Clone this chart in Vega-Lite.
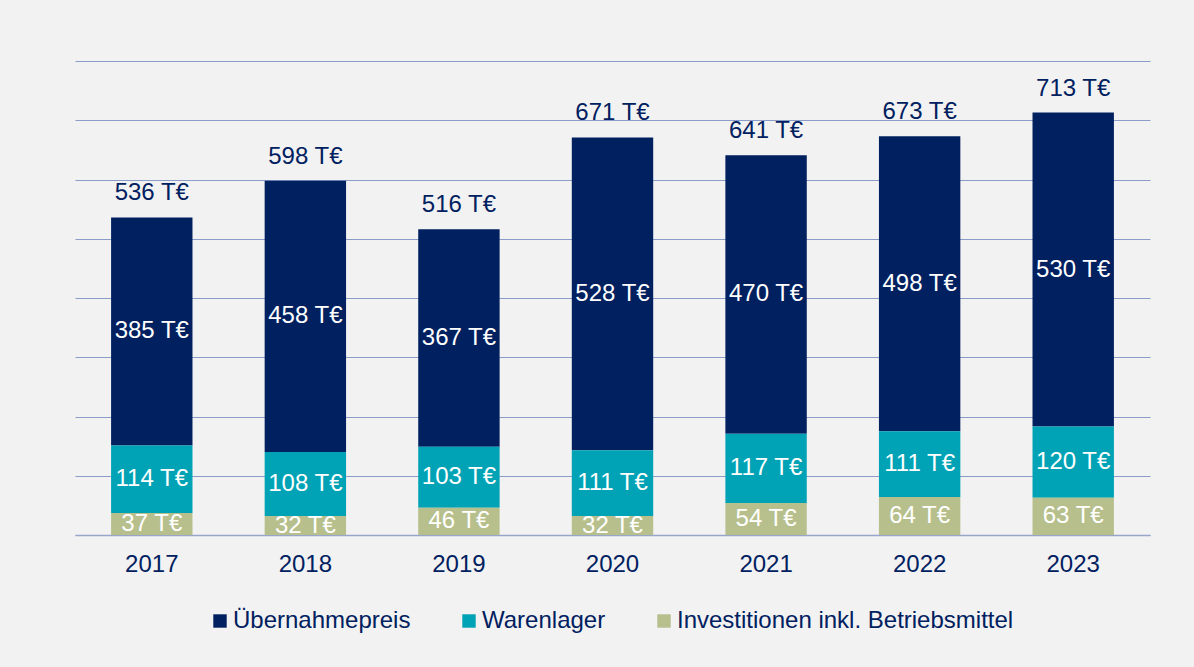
{
  "$schema": "https://vega.github.io/schema/vega-lite/v6.json",
  "width": 1075,
  "height": 474,
  "autosize": {"type": "none"},
  "padding": {"left": 75, "top": 61, "right": 44, "bottom": 132},
  "background": "#f2f2f2",
  "config": {"view": {"stroke": null}, "font": "Liberation Sans"},
  "data": {
    "values": [
      {"Jahr": "2017", "Kategorie": "Übernahmepreis", "Wert": 385},
      {"Jahr": "2017", "Kategorie": "Warenlager", "Wert": 114},
      {"Jahr": "2017", "Kategorie": "Investitionen inkl. Betriebsmittel", "Wert": 37},
      {"Jahr": "2018", "Kategorie": "Übernahmepreis", "Wert": 458},
      {"Jahr": "2018", "Kategorie": "Warenlager", "Wert": 108},
      {"Jahr": "2018", "Kategorie": "Investitionen inkl. Betriebsmittel", "Wert": 32},
      {"Jahr": "2019", "Kategorie": "Übernahmepreis", "Wert": 367},
      {"Jahr": "2019", "Kategorie": "Warenlager", "Wert": 103},
      {"Jahr": "2019", "Kategorie": "Investitionen inkl. Betriebsmittel", "Wert": 46},
      {"Jahr": "2020", "Kategorie": "Übernahmepreis", "Wert": 528},
      {"Jahr": "2020", "Kategorie": "Warenlager", "Wert": 111},
      {"Jahr": "2020", "Kategorie": "Investitionen inkl. Betriebsmittel", "Wert": 32},
      {"Jahr": "2021", "Kategorie": "Übernahmepreis", "Wert": 470},
      {"Jahr": "2021", "Kategorie": "Warenlager", "Wert": 117},
      {"Jahr": "2021", "Kategorie": "Investitionen inkl. Betriebsmittel", "Wert": 54},
      {"Jahr": "2022", "Kategorie": "Übernahmepreis", "Wert": 498},
      {"Jahr": "2022", "Kategorie": "Warenlager", "Wert": 111},
      {"Jahr": "2022", "Kategorie": "Investitionen inkl. Betriebsmittel", "Wert": 64},
      {"Jahr": "2023", "Kategorie": "Übernahmepreis", "Wert": 530},
      {"Jahr": "2023", "Kategorie": "Warenlager", "Wert": 120},
      {"Jahr": "2023", "Kategorie": "Investitionen inkl. Betriebsmittel", "Wert": 63}
    ]
  },
  "transform": [
    {"stack": "Wert", "groupby": ["Jahr"], "sort": [{"field": "Kategorie", "order": "ascending"}], "as": ["y0", "y1"]},
    {"calculate": "(datum.y0 + datum.y1) / 2", "as": "mid"},
    {"calculate": "datum.Wert + ' T€'", "as": "label"}
  ],
  "encoding": {
    "x": {
      "field": "Jahr",
      "type": "nominal",
      "scale": {"paddingInner": 0.47, "paddingOuter": 0.235},
      "axis": {
        "title": null,
        "labelAngle": 0,
        "ticks": false,
        "domain": true,
        "domainColor": "#98a6cc",
        "domainWidth": 1.5,
        "labelPadding": 17,
        "labelFontSize": 24,
        "labelColor": "#002060"
      }
    }
  },
  "layer": [
    {
      "mark": {"type": "bar"},
      "encoding": {
        "y": {
          "field": "y1",
          "type": "quantitative",
          "scale": {"domain": [0, 800]},
          "axis": {
            "title": null,
            "values": [0, 100, 200, 300, 400, 500, 600, 700, 800],
            "grid": true,
            "gridColor": "#8c9cc8",
            "gridWidth": 1,
            "domain": false,
            "ticks": false,
            "labels": false
          }
        },
        "y2": {"field": "y0"},
        "color": {
          "field": "Kategorie",
          "type": "nominal",
          "scale": {
            "domain": ["Übernahmepreis", "Warenlager", "Investitionen inkl. Betriebsmittel"],
            "range": ["#002060", "#00a3b5", "#b7c08d"]
          },
          "legend": {
            "orient": "none",
            "legendX": 133,
            "legendY": 548,
            "direction": "horizontal",
            "title": null,
            "symbolType": "square",
            "symbolSize": 180,
            "symbolStrokeWidth": 0,
            "labelFontSize": 24,
            "labelColor": "#002060",
            "labelOffset": 1,
            "columnPadding": 46,
            "padding": 0,
            "labelLimit": 600
          }
        }
      }
    },
    {
      "mark": {"type": "text", "color": "white", "fontSize": 24, "baseline": "middle", "align": "center"},
      "encoding": {
        "y": {"field": "mid", "type": "quantitative"},
        "text": {"field": "label", "type": "nominal"}
      }
    },
    {
      "transform": [
        {"aggregate": [{"op": "sum", "field": "Wert", "as": "Summe"}], "groupby": ["Jahr"]},
        {"calculate": "datum.Summe + ' T€'", "as": "slabel"}
      ],
      "mark": {"type": "text", "color": "#002060", "fontSize": 24, "baseline": "alphabetic", "align": "center", "dy": -17},
      "encoding": {
        "y": {"field": "Summe", "type": "quantitative"},
        "text": {"field": "slabel", "type": "nominal"}
      }
    }
  ]
}
